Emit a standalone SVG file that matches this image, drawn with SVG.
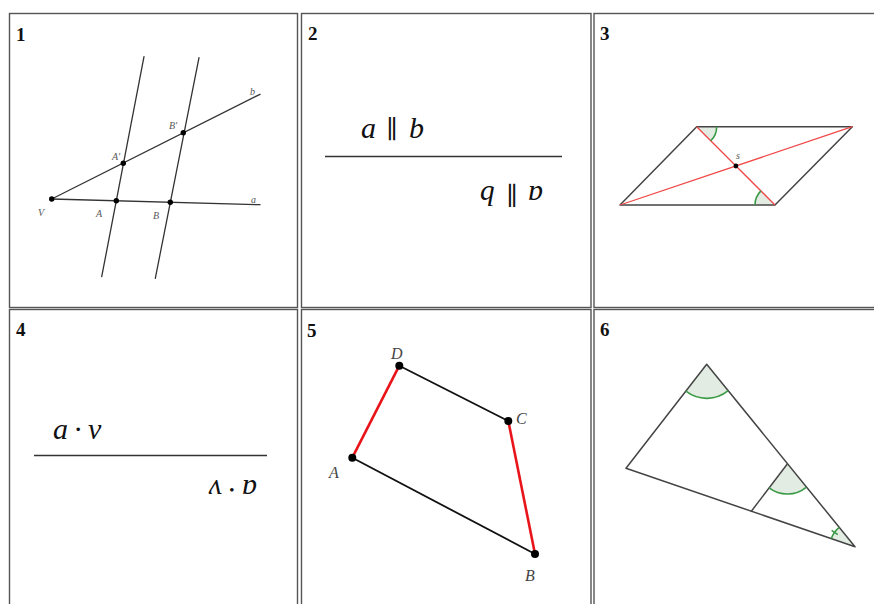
<svg xmlns="http://www.w3.org/2000/svg" width="874" height="604" viewBox="0 0 874 604">
<style>
.cell{fill:#fff;stroke:#555;stroke-width:1.4}
.num{font-family:"Liberation Serif",serif;font-weight:bold;font-size:19px;fill:#111}
.ln{stroke:#333;stroke-width:1.3;fill:none;stroke-linecap:round}
.lbl{font-family:"Liberation Serif",serif;font-style:italic;font-size:10px;fill:#555}
.lbl5{font-family:"Liberation Serif",serif;font-style:italic;font-size:16px;fill:#444}
.math{font-family:"Liberation Serif","DejaVu Serif",serif;font-style:italic;font-size:30px;fill:#111}
.par{font-family:"DejaVu Serif","Liberation Serif",serif;font-style:normal;font-size:25px}
.frac{stroke:#333;stroke-width:1.6}
.dot{fill:#000}
.red{stroke:#f04848;stroke-width:1.3;fill:none}
.red5{stroke:#e8141a;stroke-width:2.6;fill:none}
.blk5{stroke:#111;stroke-width:1.8;fill:none}
.ang{fill:#e2ece2;stroke:none}
.arc{fill:none;stroke:#3a9a45;stroke-width:1.6}
.edge{stroke:#444;stroke-width:1.5;fill:none;stroke-linejoin:round}
</style>
<rect x="0" y="0" width="874" height="604" fill="#fff"/>

<g id="cell1">
<rect class="cell" x="9.5" y="13.5" width="288" height="294"/>
<text class="num" x="16" y="41">1</text>
<line class="ln" x1="51.7" y1="199" x2="260" y2="204.7"/>
<line class="ln" x1="51.7" y1="199" x2="260" y2="94.3"/>
<line class="ln" x1="144" y1="56.7" x2="101.7" y2="276.7"/>
<line class="ln" x1="199" y1="57.7" x2="155.3" y2="278.3"/>
<circle class="dot" cx="51.7" cy="199" r="2.7"/>
<circle class="dot" cx="116.3" cy="200.7" r="2.7"/>
<circle class="dot" cx="170.3" cy="202.3" r="2.7"/>
<circle class="dot" cx="123.3" cy="163.3" r="2.7"/>
<circle class="dot" cx="183.3" cy="132.7" r="2.7"/>
<text class="lbl" x="38" y="216">V</text>
<text class="lbl" x="96" y="217">A</text>
<text class="lbl" x="153" y="219">B</text>
<text class="lbl" x="112" y="160">A′</text>
<text class="lbl" x="169" y="129">B′</text>
<text class="lbl" x="251" y="203">a</text>
<text class="lbl" x="250" y="95">b</text>
</g>

<g id="cell2">
<rect class="cell" x="301.5" y="13.5" width="289.5" height="294"/>
<text class="num" x="308" y="40">2</text>
<text class="math" y="138"><tspan x="361">a</tspan><tspan class="par" x="386">∥</tspan><tspan x="409">b</tspan></text>
<line class="frac" x1="325" y1="156.5" x2="562" y2="156.5"/>
<g transform="rotate(180 452 162)">
<text class="math" y="138"><tspan x="361">a</tspan><tspan class="par" x="386">∥</tspan><tspan x="409">b</tspan></text>
</g>
</g>

<g id="cell3">
<rect class="cell" x="594" y="13.5" width="300" height="294"/>
<text class="num" x="600" y="40">3</text>
<path class="ang" d="M696.7 126.7 L716.7 126.7 A20 20 0 0 1 710.8 140.8 Z"/>
<path class="ang" d="M775 205 L755 205 A20 20 0 0 1 760.9 190.9 Z"/>
<polygon class="edge" points="696.7,126.7 852.3,126.7 775,205 620,205"/>
<line class="red" x1="620" y1="205" x2="852.3" y2="126.7"/>
<line class="red" x1="696.7" y1="126.7" x2="775" y2="205"/>
<path class="arc" d="M716.7 126.7 A20 20 0 0 1 710.8 140.8"/>
<path class="arc" d="M755 205 A20 20 0 0 1 760.9 190.9"/>
<circle class="dot" cx="735.9" cy="166" r="2.4"/>
<text class="lbl" x="736" y="159">s</text>
</g>

<g id="cell4">
<rect class="cell" x="9.5" y="309.5" width="288" height="400"/>
<text class="num" x="16" y="336">4</text>
<text class="math" y="439"><tspan x="53">a</tspan><tspan x="74">·</tspan><tspan x="88">v</tspan></text>
<line class="frac" x1="34" y1="455.5" x2="267" y2="455.5"/>
<g transform="rotate(180 155 459.5)">
<text class="math" y="439"><tspan x="53">a</tspan><tspan x="74">·</tspan><tspan x="88">v</tspan></text>
</g>
</g>

<g id="cell5">
<rect class="cell" x="301.5" y="309.5" width="289.5" height="400"/>
<text class="num" x="307" y="337">5</text>
<line class="blk5" x1="399.3" y1="365.7" x2="508.3" y2="421"/>
<line class="blk5" x1="352.3" y1="457.7" x2="535" y2="554"/>
<line class="red5" x1="352.3" y1="457.7" x2="399.3" y2="365.7"/>
<line class="red5" x1="508.3" y1="421" x2="535" y2="554"/>
<circle class="dot" cx="399.3" cy="365.7" r="4"/>
<circle class="dot" cx="508.3" cy="421" r="4"/>
<circle class="dot" cx="352.3" cy="457.7" r="4"/>
<circle class="dot" cx="535" cy="554" r="4"/>
<text class="lbl5" x="391" y="359">D</text>
<text class="lbl5" x="516" y="424">C</text>
<text class="lbl5" x="329" y="478">A</text>
<text class="lbl5" x="525" y="581">B</text>
</g>

<g id="cell6">
<rect class="cell" x="594" y="309.5" width="300" height="400"/>
<text class="num" x="600" y="336">6</text>
<path class="ang" d="M706.7 364.3 L728.2 390.7 A34 34 0 0 1 685.9 391.2 Z"/>
<path class="ang" d="M787.3 464 L806.2 487.3 A30 30 0 0 1 769.1 487.9 Z"/>
<path class="ang" d="M855 546.7 L831.3 538.6 A25 25 0 0 1 839.2 527.3 Z"/>
<polygon class="edge" points="706.7,364.3 626,468.3 855,546.7"/>
<line class="edge" x1="787.3" y1="464" x2="751" y2="511.7"/>
<path class="arc" d="M728.2 390.7 A34 34 0 0 1 685.9 391.2"/>
<path class="arc" d="M806.2 487.3 A30 30 0 0 1 769.1 487.9"/>
<path class="arc" d="M831.3 538.6 A25 25 0 0 1 839.2 527.3"/>
<line class="arc" x1="837.8" y1="534.7" x2="831.6" y2="530.4"/>
</g>
</svg>
